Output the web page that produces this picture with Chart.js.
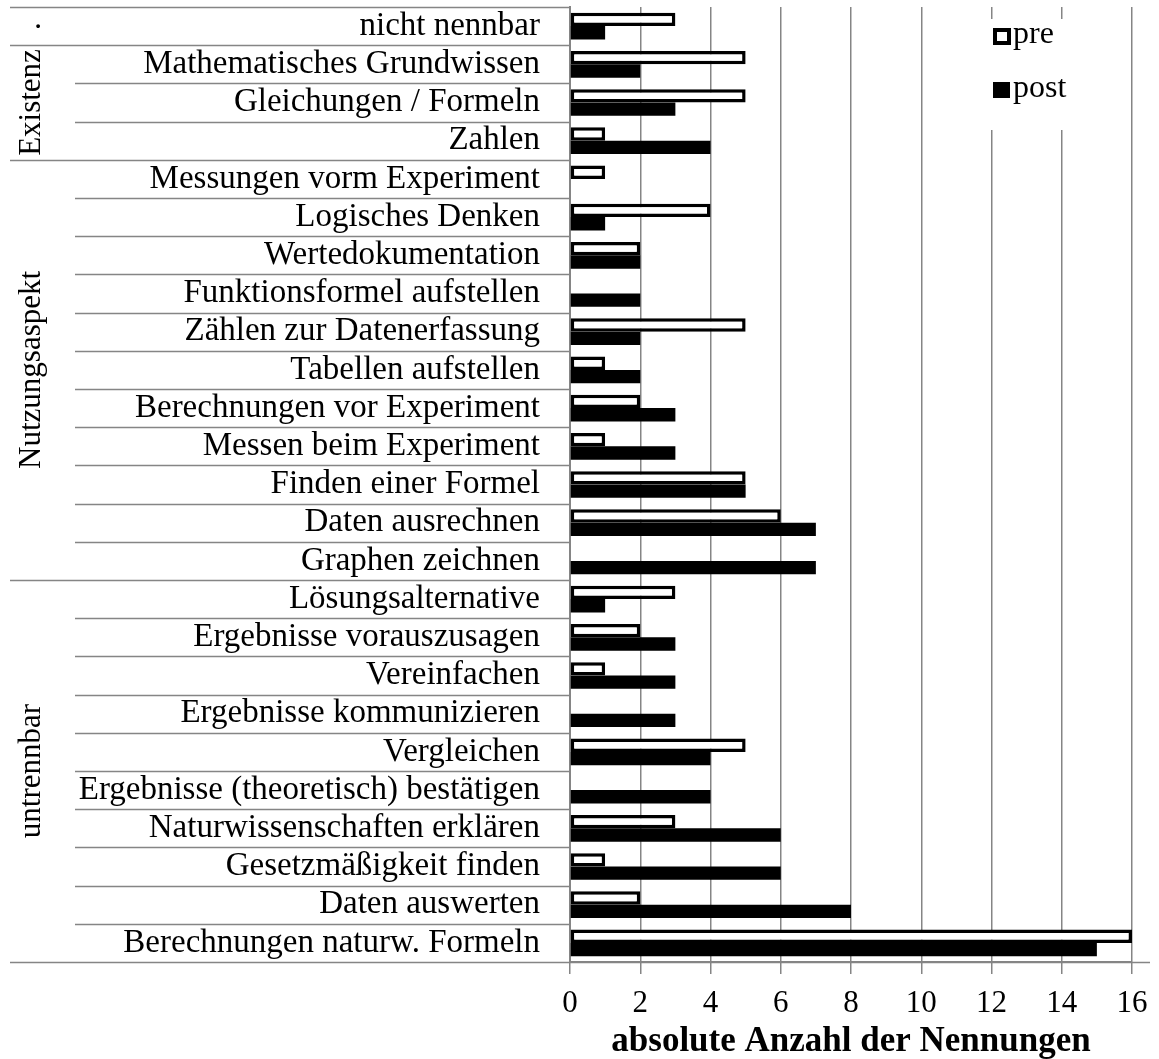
<!DOCTYPE html>
<html><head><meta charset="utf-8">
<script src="https://cdn.jsdelivr.net/npm/chart.js@4/dist/chart.umd.min.js"></script>
<style>html,body{margin:0;padding:0;background:#fff;overflow:hidden}#wrap{width:1159px;height:1059px;position:relative}</style>
</head><body><div id="wrap"><canvas id="c" width="1159" height="1059"></canvas></div>
<script>
const categories = [
  'nicht nennbar',
  'Mathematisches Grundwissen',
  'Gleichungen / Formeln',
  'Zahlen',
  'Messungen vorm Experiment',
  'Logisches Denken',
  'Wertedokumentation',
  'Funktionsformel aufstellen',
  'Zählen zur Datenerfassung',
  'Tabellen aufstellen',
  'Berechnungen vor Experiment',
  'Messen beim Experiment',
  'Finden einer Formel',
  'Daten ausrechnen',
  'Graphen zeichnen',
  'Lösungsalternative',
  'Ergebnisse vorauszusagen',
  'Vereinfachen',
  'Ergebnisse kommunizieren',
  'Vergleichen',
  'Ergebnisse (theoretisch) bestätigen',
  'Naturwissenschaften erklären',
  'Gesetzmäßigkeit finden',
  'Daten auswerten',
  'Berechnungen naturw. Formeln'
];
const preValues  = [3,5,5,1,1,4,2,0,5,1,2,1,5,6,0,3,2,1,0,5,0,3,1,2,16];
const postValues = [1,2,3,4,0,1,2,2,2,2,3,3,5,7,7,1,3,3,3,4,4,6,6,8,15];
const xTickValues = [0,2,4,6,8,10,12,14,16];
const groupLabels = ['.', 'Existenz', 'Nutzungsaspekt', 'untrennbar'];
const groupSizes  = [1, 3, 11, 10];
const seriesNames = ['pre', 'post'];
const axisTitle = 'absolute Anzahl der Nennungen';

const GRAY = '#858585';
const SERIF = "'Liberation Serif', 'Times New Roman', serif";

const decor = {
  id: 'decor',
  afterDraw(chart) {
    const ctx = chart.ctx, ca = chart.chartArea, y = chart.scales.y;
    const n = categories.length;
    const bounds = new Set([0]);
    let acc = 0;
    groupSizes.forEach(s => { acc += s; bounds.add(acc); });
    ctx.save();
    ctx.strokeStyle = GRAY;
    ctx.lineWidth = 1.5;
    for (let i = 0; i <= n; i++) {
      let py;
      if (i === 0) py = ca.top;
      else if (i === n) py = ca.bottom;
      else py = (y.getPixelForValue(i - 1) + y.getPixelForValue(i)) / 2;
      const x0 = bounds.has(i) ? 10 : 75;
      const x1 = (i === n) ? 1150 : ca.left;
      ctx.beginPath();
      ctx.moveTo(x0, Math.round(py) + 0.5);
      ctx.lineTo(x1, Math.round(py) + 0.5);
      ctx.stroke();
    }
    ctx.fillStyle = '#000';
    ctx.font = '31px ' + SERIF;
    ctx.textAlign = 'center';
    ctx.textBaseline = 'alphabetic';
    let start = 0;
    groupSizes.forEach((s, gi) => {
      const top = start === 0 ? ca.top : (y.getPixelForValue(start - 1) + y.getPixelForValue(start)) / 2;
      const endIdx = start + s;
      const bot = endIdx === n ? ca.bottom : (y.getPixelForValue(endIdx - 1) + y.getPixelForValue(endIdx)) / 2;
      const cy = (top + bot) / 2;
      ctx.save();
      ctx.translate(40, cy);
      ctx.rotate(-Math.PI / 2);
      ctx.fillText(groupLabels[gi], 0, 0);
      ctx.restore();
      start = endIdx;
    });
    // legend
    ctx.fillStyle = '#fff';
    ctx.fillRect(984, 19, 118, 111);
    ctx.fillStyle = '#000';
    ctx.strokeStyle = '#000';
    ctx.lineWidth = 4;
    ctx.strokeRect(995, 30, 14, 13);
    ctx.fillRect(993, 82, 17, 16);
    ctx.font = '32px ' + SERIF;
    ctx.textAlign = 'left';
    ctx.textBaseline = 'alphabetic';
    ctx.fillText(seriesNames[0], 1013, 43);
    ctx.fillText(seriesNames[1], 1013, 97);
    ctx.restore();
  }
};

new Chart(document.getElementById('c'), {
  type: 'bar',
  data: {
    labels: categories,
    datasets: [
      { label: seriesNames[0], data: preValues, backgroundColor: '#fff', borderColor: '#000', borderWidth: 3.5, borderSkipped: false },
      { label: seriesNames[1], data: postValues, backgroundColor: '#000', borderWidth: 0 }
    ]
  },
  options: {
    indexAxis: 'y',
    responsive: false,
    animation: false,
    devicePixelRatio: 1,
    categoryPercentage: 0.7,
    barPercentage: 1.0,
    layout: { padding: { left: 10, right: 27, top: 7, bottom: 0 } },
    plugins: { legend: { display: false }, tooltip: { enabled: false } },
    scales: {
      y: {
        type: 'category',
        offset: true,
        grid: { display: false, drawTicks: false },
        border: { display: true, color: GRAY, width: 2 },
        ticks: { color: '#000', padding: 30, font: { family: SERIF, size: 33 }, autoSkip: false },
        afterFit(s) { s.width = 560; s.paddingTop = 0; s.paddingBottom = 0; }
      },
      x: {
        min: 0, max: 16,
        afterBuildTicks(s) { s.ticks = xTickValues.map(v => ({ value: v })); },
        grid: { color: GRAY, lineWidth: 1.5, tickLength: 12, tickColor: GRAY },
        border: { display: true, color: GRAY, width: 2 },
        ticks: { color: '#000', padding: 11, font: { family: SERIF, size: 31 }, maxRotation: 0 },
        title: { display: true, text: axisTitle, color: '#000', font: { family: SERIF, size: 35, weight: 'bold', lineHeight: 1.0 }, padding: { top: 0, bottom: 0 } },
        afterFit(s) { s.height = 97; s.paddingLeft = 0; s.paddingRight = 0; }
      }
    }
  },
  plugins: [decor]
});
</script></body></html>
